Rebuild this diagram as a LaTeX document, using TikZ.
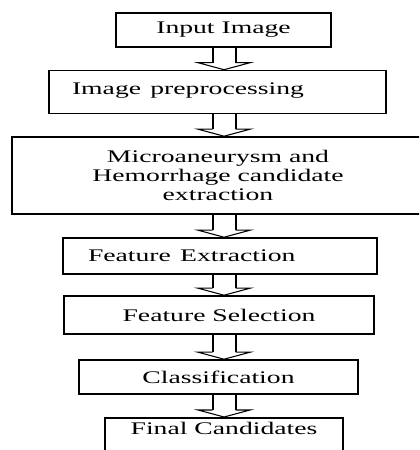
\documentclass[tikz,border=0pt]{standalone}
\usepackage{fontspec}
\setmainfont{Liberation Serif}
\usetikzlibrary{calc}

% one pixel across (before the sideways stretch) and one pixel down
\newcommand\hpx{0.48077pt}
\newcommand\vpx{0.75pt}

% hollow block arrow from the bottom of #1 to the top of #2, on the column (col)
\newcommand\flow[2]{%
  \draw[shaft] ($(#1.south -| col)+(-11.5,0)$) -- ($(#2.north -| col)+(-11.5,7)$)
               ($(#1.south -| col)+(11.5,0)$) -- ($(#2.north -| col)+(11.5,7)$);
  \draw[head] ($(#2.north -| col)+(-11.5,7)$) -- ++(-14.5,0) -- (#2.north -| col)
              -- ++(26,7) -- ++(-14.5,0);
}

\begin{document}
\begin{tikzpicture}[
    x=0.48077pt, y=0.75pt, xscale=1.56, transform shape,
    font=\fontsize{13.3}{14.3}\selectfont,
    stage/.style={rectangle, draw=black, line width=1.2pt, fill=white,
      align=center, inner sep=0pt},
    shaft/.style={line width=1.5pt},
    head/.style={line width=0.8pt, line join=miter}
  ]
  \useasboundingbox (0,0) rectangle (419,-450);
  \clip (0,0) rectangle (419,-450);

  \coordinate (col) at (224,0);

  \node[stage, minimum width=215*\hpx, minimum height=34*\vpx] (input) at (223.5,-30) {Input Image};
  \node[stage, minimum width=337*\hpx, minimum height=43*\vpx, align=left,
    inner xsep=23*\hpx, text width=291*\hpx, text depth=7*\vpx] (prep) at (217.5,-92) {Image preprocessing};
  \node[stage, minimum width=412*\hpx, minimum height=77*\vpx] (cand) at (218,-175.5)
    {Microaneurysm and\\Hemorrhage candidate\\extraction};
  \node[stage, minimum width=314*\hpx, minimum height=36*\vpx, align=left,
    inner xsep=25*\hpx, text width=264*\hpx] (fext) at (220,-256) {Feature Extraction};
  \node[stage, minimum width=310*\hpx, minimum height=38*\vpx] (fsel) at (219,-315) {Feature Selection};
  \node[stage, minimum width=279*\hpx, minimum height=34*\vpx] (clas) at (218.5,-377) {Classification};
  \node[stage, minimum width=238*\hpx, anchor=north, inner ysep=3.2pt, text depth=40pt]
    (final) at (224,-417) {Final Candidates};

  \flow{input}{prep}
  \flow{prep}{cand}
  \flow{cand}{fext}
  \flow{fext}{fsel}
  \flow{fsel}{clas}
  \flow{clas}{final}
\end{tikzpicture}
\end{document}
